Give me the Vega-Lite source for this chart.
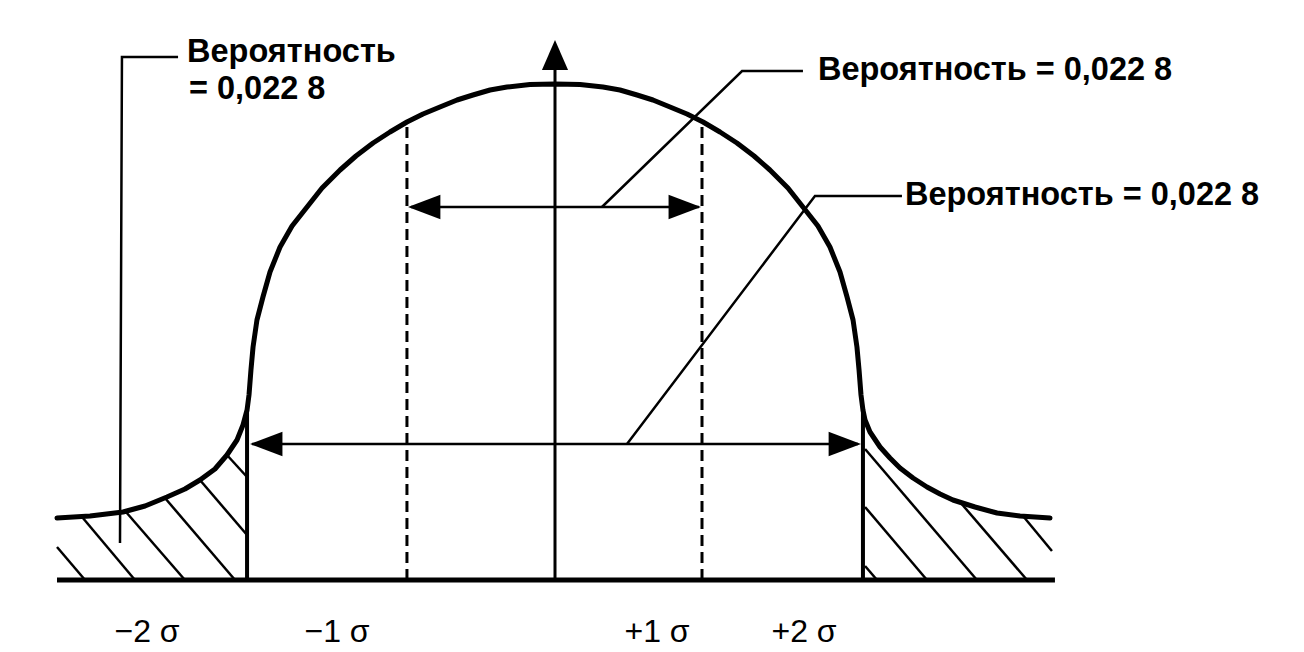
{
  "$schema": "https://vega.github.io/schema/vega-lite/v6.json",
  "autosize": {"type": "fit", "contains": "padding"},
  "width": 1304,
  "height": 652,
  "padding": 0,
  "background": "white",
  "config": {"view": {"stroke": null}},
  "datasets": {
    "curve": [
      {"x": -3.32, "y": 0.62}, {"x": -3.1, "y": 0.64}, {"x": -2.88, "y": 0.68}, {"x": -2.733, "y": 0.74},
      {"x": -2.587, "y": 0.83}, {"x": -2.467, "y": 0.91}, {"x": -2.367, "y": 1.0}, {"x": -2.267, "y": 1.11},
      {"x": -2.187, "y": 1.25}, {"x": -2.12, "y": 1.4}, {"x": -2.08, "y": 1.55}, {"x": -2.053, "y": 1.7},
      {"x": -2.04, "y": 1.85}, {"x": -2.027, "y": 2.1}, {"x": -2.013, "y": 2.33}, {"x": -1.987, "y": 2.6},
      {"x": -1.947, "y": 2.83}, {"x": -1.9, "y": 3.08}, {"x": -1.833, "y": 3.33}, {"x": -1.753, "y": 3.54},
      {"x": -1.653, "y": 3.73}, {"x": -1.553, "y": 3.92}, {"x": -1.433, "y": 4.1}, {"x": -1.327, "y": 4.24},
      {"x": -1.213, "y": 4.37}, {"x": -1.1, "y": 4.48}, {"x": -0.987, "y": 4.58}, {"x": -0.88, "y": 4.66},
      {"x": -0.767, "y": 4.73}, {"x": -0.653, "y": 4.8}, {"x": -0.547, "y": 4.85}, {"x": -0.433, "y": 4.9},
      {"x": -0.32, "y": 4.93}, {"x": -0.167, "y": 4.955}, {"x": 0, "y": 4.96}, {"x": 0.167, "y": 4.955},
      {"x": 0.32, "y": 4.93}, {"x": 0.433, "y": 4.9}, {"x": 0.547, "y": 4.85}, {"x": 0.653, "y": 4.8},
      {"x": 0.767, "y": 4.73}, {"x": 0.88, "y": 4.66}, {"x": 0.987, "y": 4.58}, {"x": 1.1, "y": 4.48},
      {"x": 1.213, "y": 4.37}, {"x": 1.327, "y": 4.24}, {"x": 1.433, "y": 4.1}, {"x": 1.553, "y": 3.92},
      {"x": 1.653, "y": 3.73}, {"x": 1.753, "y": 3.54}, {"x": 1.833, "y": 3.33}, {"x": 1.9, "y": 3.08},
      {"x": 1.947, "y": 2.83}, {"x": 1.987, "y": 2.6}, {"x": 2.013, "y": 2.33}, {"x": 2.027, "y": 2.1},
      {"x": 2.04, "y": 1.85}, {"x": 2.053, "y": 1.7}, {"x": 2.067, "y": 1.6}, {"x": 2.1, "y": 1.48},
      {"x": 2.167, "y": 1.33}, {"x": 2.233, "y": 1.22}, {"x": 2.3, "y": 1.12}, {"x": 2.387, "y": 1.02},
      {"x": 2.48, "y": 0.93}, {"x": 2.567, "y": 0.86}, {"x": 2.653, "y": 0.8}, {"x": 2.8, "y": 0.73},
      {"x": 2.947, "y": 0.67}, {"x": 3.1, "y": 0.64}, {"x": 3.3, "y": 0.62}
    ],
    "segments": [
      {"kind": "base", "x": -3.32, "y": 0, "x2": 3.333, "y2": 0},
      {"kind": "post", "x": -2.053, "y": 0, "x2": -2.053, "y2": 1.7},
      {"kind": "post", "x": 2.053, "y": 0, "x2": 2.053, "y2": 1.7},
      {"kind": "axis", "x": 0, "y": 0, "x2": 0, "y2": 5.1},
      {"kind": "dash", "x": -0.987, "y": 0, "x2": -0.987, "y2": 4.58},
      {"kind": "dash", "x": 0.98, "y": 0, "x2": 0.98, "y2": 4.58},
      {"kind": "shaft", "x": -0.96, "y": 3.73, "x2": 0.96, "y2": 3.73},
      {"kind": "shaft", "x": -2.02, "y": 1.36, "x2": 2.02, "y2": 1.36},
      {"kind": "hatch", "x": -3.32, "y": 0.33, "x2": -3.133, "y2": 0},
      {"kind": "hatch", "x": -3.153, "y": 0.63, "x2": -2.8, "y2": 0},
      {"kind": "hatch", "x": -2.86, "y": 0.68, "x2": -2.467, "y2": 0},
      {"kind": "hatch", "x": -2.6, "y": 0.82, "x2": -2.133, "y2": 0},
      {"kind": "hatch", "x": -2.367, "y": 1.0, "x2": -2.053, "y2": 0.45},
      {"kind": "hatch", "x": -2.187, "y": 1.25, "x2": -2.053, "y2": 1.03},
      {"kind": "hatch", "x": 2.067, "y": 0.14, "x2": 2.147, "y2": 0},
      {"kind": "hatch", "x": 2.067, "y": 0.73, "x2": 2.48, "y2": 0},
      {"kind": "hatch", "x": 2.067, "y": 1.31, "x2": 2.813, "y2": 0},
      {"kind": "hatch", "x": 2.7, "y": 0.78, "x2": 3.147, "y2": 0},
      {"kind": "hatch", "x": 3.12, "y": 0.64, "x2": 3.313, "y2": 0.29}
    ],
    "leaders": [
      {"id": "A", "k": 0, "x": -2.513, "y": 5.23},
      {"id": "A", "k": 1, "x": -2.887, "y": 5.23},
      {"id": "A", "k": 2, "x": -2.9, "y": 0.37},
      {"id": "B", "k": 0, "x": 1.653, "y": 5.09},
      {"id": "B", "k": 1, "x": 1.247, "y": 5.09},
      {"id": "B", "k": 2, "x": 0.313, "y": 3.73},
      {"id": "C", "k": 0, "x": 2.313, "y": 3.84},
      {"id": "C", "k": 1, "x": 1.733, "y": 3.84},
      {"id": "C", "k": 2, "x": 0.48, "y": 1.36}
    ],
    "heads": [
      {"dir": "up", "x": 0, "y": 5.4},
      {"dir": "left", "x": -0.98, "y": 3.73},
      {"dir": "right", "x": 0.973, "y": 3.73},
      {"dir": "left", "x": -2.033, "y": 1.36},
      {"dir": "right", "x": 2.04, "y": 1.36}
    ],
    "labels": [
      {"kind": "prob", "text": "Вероятность", "x": -2.453, "y": 5.28},
      {"kind": "prob", "text": "= 0,022 8", "x": -2.44, "y": 4.91},
      {"kind": "prob", "text": "Вероятность = 0,022 8", "x": 1.753, "y": 5.1},
      {"kind": "prob", "text": "Вероятность = 0,022 8", "x": 2.333, "y": 3.85},
      {"kind": "sigma", "text": "−2 σ", "x": -2.72, "y": -0.52},
      {"kind": "sigma", "text": "−1 σ", "x": -1.453, "y": -0.52},
      {"kind": "sigma", "text": "+1 σ", "x": 0.68, "y": -0.52},
      {"kind": "sigma", "text": "+2 σ", "x": 1.66, "y": -0.52}
    ]
  },
  "layer": [
    {
      "data": {"name": "segments"},
      "transform": [{"filter": "datum.kind === 'hatch'"}],
      "mark": {"type": "rule", "color": "black", "strokeWidth": 2.5},
      "encoding": {
        "x": {"field": "x", "type": "quantitative", "scale": {"domain": [-3.7, 4.99333], "nice": false, "zero": false}, "axis": null},
        "y": {"field": "y", "type": "quantitative", "scale": {"domain": [-0.72, 5.8], "nice": false, "zero": false}, "axis": null},
        "x2": {"field": "x2"},
        "y2": {"field": "y2"}
      }
    },
    {
      "data": {"name": "segments"},
      "transform": [{"filter": "datum.kind === 'shaft'"}],
      "mark": {"type": "rule", "color": "black", "strokeWidth": 2.5},
      "encoding": {
        "x": {"field": "x", "type": "quantitative", "axis": null},
        "y": {"field": "y", "type": "quantitative", "axis": null},
        "x2": {"field": "x2"},
        "y2": {"field": "y2"}
      }
    },
    {
      "data": {"name": "segments"},
      "transform": [{"filter": "datum.kind === 'dash'"}],
      "mark": {"type": "rule", "color": "black", "strokeWidth": 3, "strokeDash": [11, 6]},
      "encoding": {
        "x": {"field": "x", "type": "quantitative", "axis": null},
        "y": {"field": "y", "type": "quantitative", "axis": null},
        "x2": {"field": "x2"},
        "y2": {"field": "y2"}
      }
    },
    {
      "data": {"name": "segments"},
      "transform": [{"filter": "datum.kind === 'axis'"}],
      "mark": {"type": "rule", "color": "black", "strokeWidth": 3},
      "encoding": {
        "x": {"field": "x", "type": "quantitative", "axis": null},
        "y": {"field": "y", "type": "quantitative", "axis": null},
        "x2": {"field": "x2"},
        "y2": {"field": "y2"}
      }
    },
    {
      "data": {"name": "segments"},
      "transform": [{"filter": "datum.kind === 'post'"}],
      "mark": {"type": "rule", "color": "black", "strokeWidth": 4},
      "encoding": {
        "x": {"field": "x", "type": "quantitative", "axis": null},
        "y": {"field": "y", "type": "quantitative", "axis": null},
        "x2": {"field": "x2"},
        "y2": {"field": "y2"}
      }
    },
    {
      "data": {"name": "segments"},
      "transform": [{"filter": "datum.kind === 'base'"}],
      "mark": {"type": "rule", "color": "black", "strokeWidth": 5},
      "encoding": {
        "x": {"field": "x", "type": "quantitative", "axis": null},
        "y": {"field": "y", "type": "quantitative", "axis": null},
        "x2": {"field": "x2"},
        "y2": {"field": "y2"}
      }
    },
    {
      "data": {"name": "leaders"},
      "mark": {"type": "line", "color": "black", "strokeWidth": 2.5},
      "encoding": {
        "x": {"field": "x", "type": "quantitative", "axis": null},
        "y": {"field": "y", "type": "quantitative", "axis": null},
        "detail": {"field": "id"},
        "order": {"field": "k"}
      }
    },
    {
      "data": {"name": "curve"},
      "mark": {"type": "line", "color": "black", "strokeWidth": 5, "strokeCap": "round", "strokeJoin": "round"},
      "encoding": {
        "x": {"field": "x", "type": "quantitative", "axis": null},
        "y": {"field": "y", "type": "quantitative", "axis": null}
      }
    },
    {
      "data": {"name": "heads"},
      "transform": [{"filter": "datum.dir === 'up'"}],
      "mark": {"type": "point", "shape": "M0,0L-0.87,2L0.87,2Z", "size": 900, "filled": true, "color": "black", "opacity": 1},
      "encoding": {
        "x": {"field": "x", "type": "quantitative", "axis": null},
        "y": {"field": "y", "type": "quantitative", "axis": null}
      }
    },
    {
      "data": {"name": "heads"},
      "transform": [{"filter": "datum.dir === 'left'"}],
      "mark": {"type": "point", "shape": "M0,0L2,-0.76L2,0.76Z", "size": 1050, "filled": true, "color": "black", "opacity": 1},
      "encoding": {
        "x": {"field": "x", "type": "quantitative", "axis": null},
        "y": {"field": "y", "type": "quantitative", "axis": null}
      }
    },
    {
      "data": {"name": "heads"},
      "transform": [{"filter": "datum.dir === 'right'"}],
      "mark": {"type": "point", "shape": "M0,0L-2,-0.76L-2,0.76Z", "size": 1050, "filled": true, "color": "black", "opacity": 1},
      "encoding": {
        "x": {"field": "x", "type": "quantitative", "axis": null},
        "y": {"field": "y", "type": "quantitative", "axis": null}
      }
    },
    {
      "data": {"name": "labels"},
      "transform": [{"filter": "datum.kind === 'prob'"}],
      "mark": {"type": "text", "align": "left", "baseline": "middle", "font": "Liberation Sans", "fontSize": 32.5, "fontWeight": "bold", "color": "black"},
      "encoding": {
        "x": {"field": "x", "type": "quantitative", "axis": null},
        "y": {"field": "y", "type": "quantitative", "axis": null},
        "text": {"field": "text"}
      }
    },
    {
      "data": {"name": "labels"},
      "transform": [{"filter": "datum.kind === 'sigma'"}],
      "mark": {"type": "text", "align": "center", "baseline": "middle", "font": "Liberation Sans", "fontSize": 32, "color": "black"},
      "encoding": {
        "x": {"field": "x", "type": "quantitative", "axis": null},
        "y": {"field": "y", "type": "quantitative", "axis": null},
        "text": {"field": "text"}
      }
    }
  ]
}
